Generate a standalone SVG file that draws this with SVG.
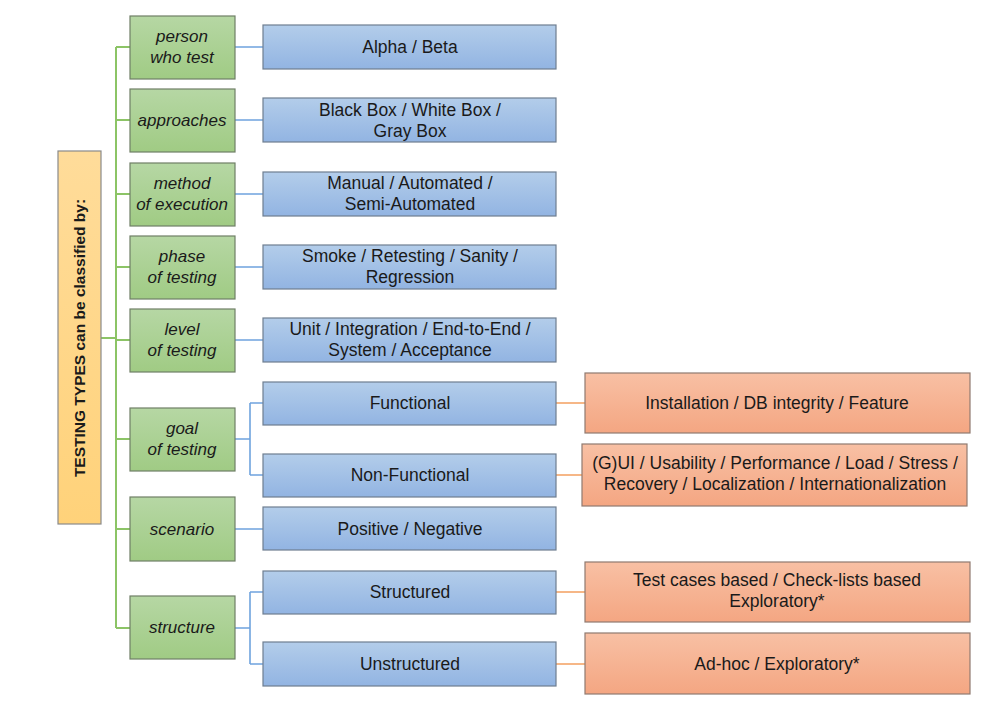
<svg xmlns="http://www.w3.org/2000/svg" width="986" height="704" viewBox="0 0 986 704">
<defs>
<linearGradient id="gY" x1="0" y1="0" x2="0" y2="1"><stop offset="0" stop-color="#ffdc9a"/><stop offset="1" stop-color="#ffd27a"/></linearGradient>
<linearGradient id="gG" x1="0" y1="0" x2="0" y2="1"><stop offset="0" stop-color="#b6d7a4"/><stop offset="1" stop-color="#a0cb84"/></linearGradient>
<linearGradient id="gB" x1="0" y1="0" x2="0" y2="1"><stop offset="0" stop-color="#b3cdea"/><stop offset="1" stop-color="#92b4e2"/></linearGradient>
<linearGradient id="gO" x1="0" y1="0" x2="0" y2="1"><stop offset="0" stop-color="#f8c0a4"/><stop offset="1" stop-color="#f4a682"/></linearGradient>
</defs>
<style>
.y{fill:url(#gY);stroke:#8a8a8a;stroke-width:1.2}
.g{fill:url(#gG);stroke:#6f7f66;stroke-width:1.2}
.b{fill:url(#gB);stroke:#6e7e90;stroke-width:1.2}
.o{fill:url(#gO);stroke:#8f7a70;stroke-width:1.2}
text{font-family:"Liberation Sans",Arial,sans-serif;font-size:17.5px;fill:#1a1a1a;text-anchor:middle}
.it{font-style:italic;font-size:17px}
.rt{font-weight:bold;font-size:15.5px}
.lg{stroke:#8cc466;stroke-width:2;fill:none}
.lb{stroke:#6fa3de;stroke-width:1.6;fill:none}
.lo{stroke:#f4a060;stroke-width:1.6;fill:none}
</style>
<g id="connectors">
<path class="lg" d="M101 338H116M116 47V628M116 47H130M116 120H130M116 194H130M116 267H130M116 340H130M116 439H130M116 529H130M116 628H130"/>
<path class="lb" d="M235 47H263M235 120H263M235 194H263M235 267H263M235 340H263M235 439H250M250 403V475M250 403H263M250 475H263M235 529H263M235 628H250M250 592V664M250 592H263M250 664H263"/>
<path class="lo" d="M556 403H585M556 475H582M556 592H585M556 664H585"/>
</g>
<g id="root"><rect class="y" x="58" y="151" width="43" height="373"/><text class="rt" transform="translate(85 338) rotate(-90)">TESTING TYPES can be classified by:</text></g>
<g id="g1"><rect class="g" x="130" y="16" width="105" height="63"/><text class="it" x="182" y="42">person</text><text class="it" x="182" y="63">who test</text></g>
<g id="g2"><rect class="g" x="130" y="89" width="105" height="63"/><text class="it" x="182" y="126">approaches</text></g>
<g id="g3"><rect class="g" x="130" y="163" width="105" height="63"/><text class="it" x="182" y="189">method</text><text class="it" x="182" y="210">of execution</text></g>
<g id="g4"><rect class="g" x="130" y="236" width="105" height="63"/><text class="it" x="182" y="262">phase</text><text class="it" x="182" y="283">of testing</text></g>
<g id="g5"><rect class="g" x="130" y="309" width="105" height="63"/><text class="it" x="182" y="335">level</text><text class="it" x="182" y="356">of testing</text></g>
<g id="g6"><rect class="g" x="130" y="408" width="105" height="63"/><text class="it" x="182" y="434">goal</text><text class="it" x="182" y="455">of testing</text></g>
<g id="g7"><rect class="g" x="130" y="497" width="105" height="64"/><text class="it" x="182" y="535">scenario</text></g>
<g id="g8"><rect class="g" x="130" y="596" width="105" height="63"/><text class="it" x="182" y="633">structure</text></g>
<g id="b1"><rect class="b" x="263" y="25" width="293" height="44"/><text x="410" y="53">Alpha / Beta</text></g>
<g id="b2"><rect class="b" x="263" y="98" width="293" height="44"/><text x="410" y="116">Black Box / White Box /</text><text x="410" y="137">Gray Box</text></g>
<g id="b3"><rect class="b" x="263" y="172" width="293" height="44"/><text x="410" y="189">Manual / Automated /</text><text x="410" y="210">Semi-Automated</text></g>
<g id="b4"><rect class="b" x="263" y="245" width="293" height="44"/><text x="410" y="262">Smoke / Retesting / Sanity /</text><text x="410" y="283">Regression</text></g>
<g id="b5"><rect class="b" x="263" y="318" width="293" height="44"/><text x="410" y="335">Unit / Integration / End-to-End /</text><text x="410" y="356">System / Acceptance</text></g>
<g id="b6"><rect class="b" x="263" y="382" width="293" height="43"/><text x="410" y="409">Functional</text></g>
<g id="b7"><rect class="b" x="263" y="454" width="293" height="43"/><text x="410" y="481">Non-Functional</text></g>
<g id="b8"><rect class="b" x="263" y="507" width="293" height="43"/><text x="410" y="535">Positive / Negative</text></g>
<g id="b9"><rect class="b" x="263" y="571" width="293" height="43"/><text x="410" y="598">Structured</text></g>
<g id="b10"><rect class="b" x="263" y="642" width="293" height="44"/><text x="410" y="670">Unstructured</text></g>
<g id="o1"><rect class="o" x="585" y="373" width="385" height="60"/><text x="777" y="409">Installation / DB integrity / Feature</text></g>
<g id="o2"><rect class="o" x="582" y="444" width="385" height="62"/><text x="775" y="469">(G)UI / Usability / Performance / Load / Stress /</text><text x="775" y="490">Recovery / Localization / Internationalization</text></g>
<g id="o3"><rect class="o" x="585" y="562" width="385" height="60"/><text x="777" y="586">Test cases based / Check-lists based</text><text x="777" y="607">Exploratory*</text></g>
<g id="o4"><rect class="o" x="585" y="633" width="385" height="61"/><text x="777" y="670">Ad-hoc / Exploratory*</text></g>
</svg>
